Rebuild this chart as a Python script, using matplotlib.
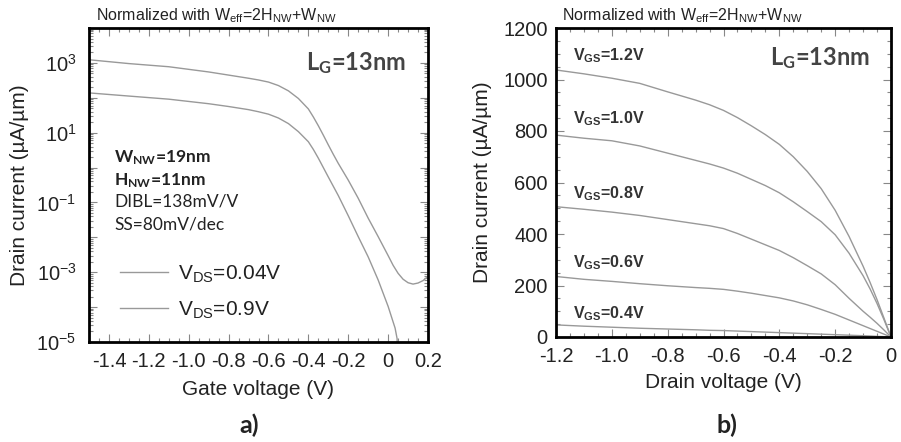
import matplotlib
matplotlib.use('Agg')
import matplotlib.pyplot as plt
import numpy as np
from matplotlib.ticker import FixedLocator, MultipleLocator, LogLocator, NullFormatter, FuncFormatter

plt.rcParams['font.family'] = 'Liberation Sans'
plt.rcParams['mathtext.fontset'] = 'custom'
plt.rcParams['mathtext.rm'] = 'Liberation Sans'
plt.rcParams['mathtext.it'] = 'Liberation Sans:italic'
plt.rcParams['mathtext.bf'] = 'Liberation Sans:bold'

# ---- a) transfer curves, Id(Vg) ----
vg_09 = [-1.5, -1.3, -1.1, -0.9, -0.8, -0.7, -0.65, -0.6, -0.55, -0.5, -0.45, -0.4, -0.375,
         -0.35, -0.325, -0.3, -0.275, -0.25, -0.2, -0.15, -0.1, -0.05, 0.0, 0.025, 0.05,
         0.075, 0.1, 0.125, 0.15, 0.175, 0.2]
id_09 = [1230, 955, 776, 550, 447, 363, 324, 282, 224, 158, 95.5, 47.9, 28.2,
         15.8, 8.5, 4.47, 2.4, 1.32, 0.437, 0.132, 0.0355, 0.0105, 3.0e-3, 1.58e-3, 9.3e-4,
         6.3e-4, 5.0e-4, 4.57e-4, 4.9e-4, 5.75e-4, 7.6e-4]

vg_004 = [-1.5, -1.3, -1.1, -0.9, -0.8, -0.7, -0.65, -0.6, -0.55, -0.5, -0.45, -0.4, -0.375,
          -0.35, -0.325, -0.3, -0.25, -0.2, -0.15, -0.1, -0.05, 0.0, 0.035, 0.045, 0.048]
id_004 = [138, 112, 91.2, 67.6, 56.2, 45.7, 39.8, 33.9, 26.3, 18.2, 10.7, 5.5, 3.31,
          1.86, 1.0, 0.537, 0.158, 0.0417, 0.0105, 2.75e-3, 6.0e-4, 1.05e-4, 2.5e-5, 1.25e-5, 3.2e-6]

# ---- b) output curves, Id(Vd) ----
vd = [-1.2, -1.1, -1.0, -0.9, -0.8, -0.7, -0.65, -0.6, -0.55, -0.5, -0.45, -0.4, -0.35,
      -0.3, -0.25, -0.2, -0.15, -0.1, -0.075, -0.05, -0.025, 0.0]
id_vgs = {
    '1.2': [1037, 1022, 1005, 985, 952, 920, 902, 880, 852, 820, 786, 748, 700,
            643, 576, 492, 390, 275, 212, 145, 73, 0],
    '1.0': [784, 772, 762, 742, 714, 686, 672, 656, 636, 612, 588, 560, 525,
            487, 448, 397, 325, 238, 187, 130, 67, 0],
    '0.8': [506, 496, 485, 472, 456, 440, 432, 421, 402, 380, 358, 336, 308,
            277, 245, 203, 150, 100, 77, 53, 27, 0],
    '0.6': [235, 224, 216, 207, 199, 192, 189, 185, 178, 170, 161, 152, 140,
            125, 107, 88, 66, 44, 33, 22, 11, 0],
    '0.4': [47, 42, 38, 34, 31, 28, 26, 25, 23, 21, 19, 17, 15,
            13, 11, 9, 7, 5, 4, 2.5, 1.2, 0],
}
vgs_label_y = {'1.2': 0.894, '1.0': 0.693, '0.8': 0.45, '0.6': 0.227, '0.4': 0.061}

line_col = '#999999'
txt_col = '#222222'
calib = ['Lato', 'Liberation Sans']
narrow = ['Liberation Sans Narrow', 'Liberation Sans']

fig = plt.figure(figsize=(9.01, 4.42), dpi=100)
ax1 = fig.add_axes([89/901, 100/442, 339/901, 314/442])
ax2 = fig.add_axes([556/901, 105/442, 335/901, 309/442])


def frame(ax):
    for s in ax.spines.values():
        s.set_linewidth(2.0)
        s.set_color('black')
    ax.tick_params(which='both', direction='in', top=True, right=True, color='#888888', width=0.8)
    ax.tick_params(which='major', length=6, labelsize=14.5, labelcolor=txt_col)
    ax.tick_params(which='minor', length=3)


# panel a
ax1.plot(vg_004, id_004, color=line_col, lw=1.0, label=r'V$_{\mathregular{DS}}$=0.04V')
ax1.plot(vg_09, id_09, color=line_col, lw=1.0, label=r'V$_{\mathregular{DS}}$=0.9V')
ax1.set_yscale('log')
ax1.set_xlim(-1.5, 0.2)
ax1.set_ylim(1e-5, 1e4)
frame(ax1)
ax1.xaxis.set_major_locator(MultipleLocator(0.2))
ax1.xaxis.set_minor_locator(MultipleLocator(0.05))
ax1.xaxis.set_major_formatter(FuncFormatter(lambda v, p: '0' if abs(v) < 1e-9 else ('%.1f' % v)))
ax1.yaxis.set_major_locator(FixedLocator([10.0**e for e in range(-5, 5)]))
ax1.yaxis.set_minor_locator(LogLocator(base=10, subs=np.arange(2, 10), numticks=30))
ax1.yaxis.set_minor_formatter(NullFormatter())


def logfmt(v, p):
    e = int(round(np.log10(v)))
    if e % 2 == 0:
        return ''
    return r'$\mathregular{10^{%d}}$' % e


ax1.yaxis.set_major_formatter(FuncFormatter(logfmt))
ax1.tick_params(axis='y', which='major', pad=9)
ax1.tick_params(axis='x', which='major', pad=7)
ax1.set_xlabel('Gate voltage (V)', fontsize=15, color=txt_col)
ax1.set_ylabel('Drain current (µA/µm)', fontsize=15, color=txt_col)
ax1.xaxis.set_label_coords(0.5, -0.15)
ax1.xaxis.label.set_va('center')
ax1.yaxis.set_label_coords(-0.204, 0.5)
ax1.yaxis.label.set_va('center')

ax1.text(0.02, 1.025, r'Normalized with W$_{\mathregular{eff}}$=2H$_{\mathregular{NW}}$+W$_{\mathregular{NW}}$',
         transform=ax1.transAxes, fontsize=11.5, family=narrow, color=txt_col, va='baseline')
ax1.text(0.64, 0.866, r'$\mathregular{L_G}$=13nm', transform=ax1.transAxes, fontsize=17,
         family=calib, weight='bold', color='#444444', va='baseline')
ax1.text(0.074, 0.573, r'$\mathregular{W_{NW}}$=19nm', transform=ax1.transAxes, fontsize=12.5,
         family=calib, weight='bold', color=txt_col, va='baseline')
ax1.text(0.074, 0.50, r'$\mathregular{H_{NW}}$=11nm', transform=ax1.transAxes, fontsize=12.5,
         family=calib, weight='bold', color=txt_col, va='baseline')
ax1.text(0.074, 0.43, 'DIBL=138mV/V', transform=ax1.transAxes, fontsize=12.5,
         family=calib, color=txt_col, va='baseline')
ax1.text(0.074, 0.357, 'SS=80mV/dec', transform=ax1.transAxes, fontsize=12.5,
         family=calib, color=txt_col, va='baseline')
leg = ax1.legend(loc='upper left', bbox_to_anchor=(0.091, 0.25), frameon=False, fontsize=15,
                 handlelength=2.3, handletextpad=0.48, labelspacing=0.7, borderpad=0,
                 borderaxespad=0)
for t in leg.get_texts():
    t.set_color(txt_col)

# panel b
for k, vals in id_vgs.items():
    ax2.plot(vd, vals, color=line_col, lw=1.0)
    ax2.text(0.051, vgs_label_y[k], r'$\mathregular{V_{GS}}$=%sV' % k, transform=ax2.transAxes,
             fontsize=11.5, weight='bold', color='#333333', va='baseline')
ax2.set_xlim(-1.2, 0)
ax2.set_ylim(0, 1200)
frame(ax2)
ax2.xaxis.set_major_locator(MultipleLocator(0.2))
ax2.xaxis.set_minor_locator(MultipleLocator(0.05))
ax2.xaxis.set_major_formatter(FuncFormatter(lambda v, p: '0' if abs(v) < 1e-9 else ('%.1f' % v)))
ax2.yaxis.set_major_locator(MultipleLocator(200))
ax2.yaxis.set_minor_locator(MultipleLocator(50))
ax2.tick_params(axis='y', which='major', pad=6)
ax2.tick_params(axis='x', which='major', pad=7)
ax2.set_xlabel('Drain voltage (V)', fontsize=15, color=txt_col)
ax2.set_ylabel('Drain current (µA/µm)', fontsize=15, color=txt_col)
ax2.xaxis.set_label_coords(0.5, -0.146)
ax2.xaxis.label.set_va('center')
ax2.yaxis.set_label_coords(-0.22, 0.5)
ax2.yaxis.label.set_va('center')
ax2.text(0.018, 1.026, r'Normalized with W$_{\mathregular{eff}}$=2H$_{\mathregular{NW}}$+W$_{\mathregular{NW}}$',
         transform=ax2.transAxes, fontsize=11.5, family=narrow, color=txt_col, va='baseline')
ax2.text(0.639, 0.88, r'$\mathregular{L_G}$=13nm', transform=ax2.transAxes, fontsize=17,
         family=calib, weight='bold', color='#444444', va='baseline')

fig.text(249/901, 1 - 425/442, 'a)', fontsize=18, family=calib, weight='bold', color=txt_col,
         ha='center', va='center')
fig.text(727/901, 1 - 425/442, 'b)', fontsize=18, family=calib, weight='bold', color=txt_col,
         ha='center', va='center')

fig.savefig('out.png', dpi=100)
